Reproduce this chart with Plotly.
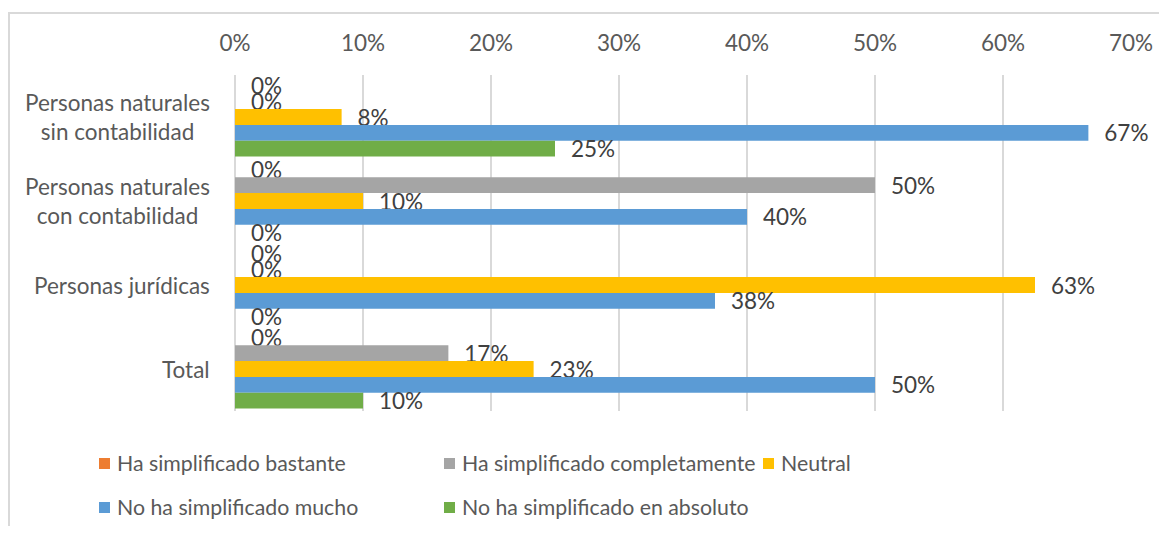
import plotly.graph_objects as go

categories = ['Personas naturales<br>sin contabilidad', 'Personas naturales<br>con contabilidad',
              'Personas jurídicas', 'Total']
series = ['Ha simplificado bastante', 'Ha simplificado completamente', 'Neutral',
          'No ha simplificado mucho', 'No ha simplificado en absoluto']
bastante = [0, 0, 0, 0]
completamente = [0, 0.50, 0, 0.1667]
neutral = [0.0833, 0.10, 0.625, 0.2333]
mucho = [0.6667, 0.40, 0.375, 0.50]
absoluto = [0.25, 0, 0, 0.10]
x_ticks = [0, 0.1, 0.2, 0.3, 0.4, 0.5, 0.6, 0.7]

colors = ['#ED7D31', '#A5A5A5', '#FFC000', '#5B9BD5', '#70AD47']
values = [bastante, completamente, neutral, mucho, absoluto]

font_family = 'Lato'
font_size = 22.5
legend_size = 21.3

# the page puts the figure 8px in from the top-left corner
OFF = 8
W, H = 1151, 518
L, R, T, B = 227, 28, 67, 115


def px(x):
    return (x - OFF - L) / (W - L - R)


def py(y):
    return (H - B - (y - OFF)) / (H - T - B)


def pct(v):
    # Excel style rounding (half up)
    return f'{int(v * 100 + 0.5)}%'


fig = go.Figure()

for name, vals, color in zip(series, values, colors):
    fig.add_trace(go.Bar(
        y=categories, x=vals, name=name, orientation='h',
        marker=dict(color=color, line=dict(width=0)),
        text=['\u00a0\u00a0\u200a' + pct(v) for v in vals],
        textposition='outside',
        constraintext='none',
        cliponaxis=False,
        textfont=dict(family=font_family, size=font_size, color='#404040'),
        showlegend=False,
    ))

shapes = [
    dict(type='line', xref='paper', yref='paper', x0=px(8), x1=px(1167), y0=py(13), y1=py(13),
         line=dict(color='#D9D9D9', width=2)),
    dict(type='line', xref='paper', yref='paper', x0=px(9), x1=px(9), y0=py(13), y1=py(534),
         line=dict(color='#D9D9D9', width=2)),
]
annotations = []

# category labels (centered multi-line, like Excel)
for cat in categories:
    annotations.append(dict(xref='paper', yref='y', x=px(212), y=cat, text=cat,
                            xanchor='right', yanchor='middle', align='center', showarrow=False,
                            font=dict(family=font_family, size=font_size, color='#595959')))

# legend built by hand to keep Excel's column positions
legend_pos = [(99, 463), (444, 463), (763, 463), (99, 507), (444, 507)]
for name, color, (lx, ly) in zip(series, colors, legend_pos):
    shapes.append(dict(type='rect', xref='paper', yref='paper',
                       x0=px(lx), x1=px(lx + 11), y0=py(ly - 5), y1=py(ly + 6),
                       fillcolor=color, line=dict(width=0)))
    annotations.append(dict(xref='paper', yref='paper', x=px(lx + 16), y=py(ly), text=name,
                            xanchor='left', yanchor='middle', showarrow=False,
                            font=dict(family=font_family, size=legend_size, color='#595959')))

fig.update_layout(
    barmode='group',
    bargap=0.06,
    bargroupgap=0,
    width=W, height=H,
    autosize=False,
    margin=dict(l=L, r=R, t=T, b=B, autoexpand=False),
    plot_bgcolor='white',
    paper_bgcolor='white',
    xaxis=dict(
        side='top', range=[0, 0.7], tickvals=x_ticks, tickformat='.0%',
        showgrid=True, gridcolor='#D9D9D9', gridwidth=2,
        zeroline=True, zerolinecolor='#D9D9D9', zerolinewidth=2,
        showline=False, ticks='', ticklabelstandoff=19,
        tickfont=dict(family=font_family, size=font_size, color='#595959'),
    ),
    yaxis=dict(
        autorange='reversed', showticklabels=False, showgrid=False,
        zeroline=False, showline=False, ticks='',
    ),
    shapes=shapes,
    annotations=annotations,
)

fig.write_html('out.html')
